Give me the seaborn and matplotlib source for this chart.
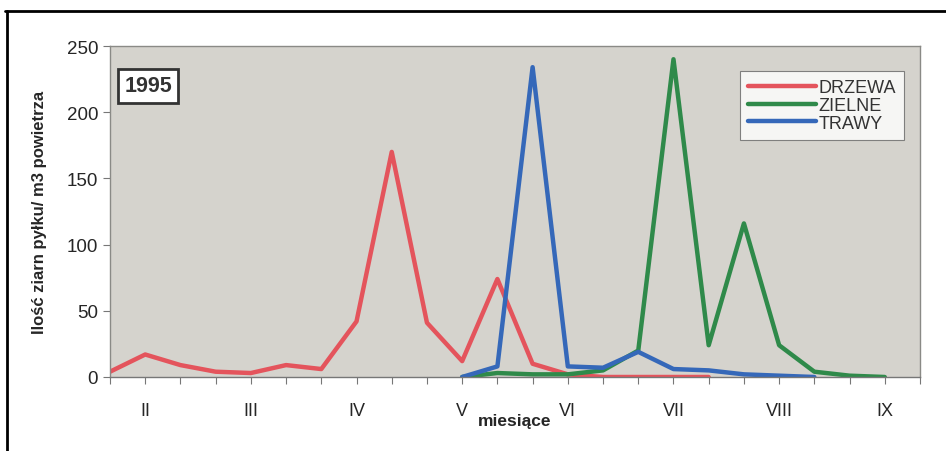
import numpy as np
import pandas as pd
import matplotlib.pyplot as plt
import seaborn as sns
from matplotlib.lines import Line2D

# ten-day periods, 24 positions on the category axis
periods = list(range(24))
month_pos = [1, 4, 7, 10, 13, 16, 19, 22]
month_labels = ['II', 'III', 'IV', 'V', 'VI', 'VII', 'VIII', 'IX']

nan = np.nan
drzewa = [4, 17, 9, 4, 3, 9, 6, 42, 170, 41, 12, 74, 10, 2, 0, 0, 0, 0,
          nan, nan, nan, nan, nan, nan]
zielne = [nan] * 10 + [0, 3, 2, 2, 5, 20, 240, 24, 116, 24, 4, 1, 0, nan]
trawy = [nan] * 10 + [0, 8, 234, 8, 7, 19, 6, 5, 2, 1, 0, nan, nan, nan]

series = {'DRZEWA': drzewa, 'ZIELNE': zielne, 'TRAWY': trawy}
colors = {'DRZEWA': '#E4545C', 'ZIELNE': '#2F8A4A', 'TRAWY': '#3568B9'}

df = pd.concat([pd.DataFrame({'okres': periods, 'wartosc': v, 'grupa': k})
                for k, v in series.items()], ignore_index=True)

sns.set_theme(style='white')
plt.rcParams['font.family'] = ['Liberation Sans', 'DejaVu Sans']

fig = plt.figure(figsize=(9.46, 4.52), dpi=100)
ax = fig.add_axes([110 / 946, 1 - 378 / 452, 810 / 946, 331 / 452])
ax.set_facecolor('#D5D3CD')

sns.lineplot(data=df, x='okres', y='wartosc', hue='grupa', palette=colors,
             linewidth=3.2, ax=ax)

ax.set_xlim(0, 23)
ax.set_ylim(0, 250)
ax.set_yticks([0, 50, 100, 150, 200, 250])
ax.set_xticks(periods, minor=True)
ax.set_xticks(month_pos)
ax.set_xticklabels(month_labels)
ax.tick_params(axis='x', which='both', direction='out', length=5, width=0.8,
               color='#777777', pad=13, labelsize=13, bottom=True)
ax.tick_params(axis='y', direction='out', length=5, width=0.8, color='#777777',
               labelsize=13.5, left=True)
for s in ax.spines.values():
    s.set_color('#8A8A86')
    s.set_linewidth(1.0)
ax.spines['bottom'].set_color('#777777')

ax.set_xlabel('miesiące', fontsize=12.5, fontweight='bold', labelpad=-4)
ax.set_ylabel('Ilość ziarn pyłku/ m3 powietrza', fontsize=12, fontweight='bold',
              labelpad=14)

ax.text(0.047, 0.88, '1995', transform=ax.transAxes, fontsize=15.5,
        fontweight='bold', color='#333333', ha='center', va='center',
        bbox=dict(boxstyle='square,pad=0.3', facecolor='white',
                  edgecolor='#333333', linewidth=2))

leg = ax.legend(title=None, loc='upper right', bbox_to_anchor=(0.98, 0.925),
                frameon=True, fancybox=False, fontsize=13, handlelength=3.8,
                handletextpad=0.1, labelspacing=0.05, borderpad=0.45,
                borderaxespad=0)
leg.get_frame().set_edgecolor('#666666')
leg.get_frame().set_facecolor('white')
leg.get_frame().set_linewidth(0.8)
for t in leg.get_texts():
    t.set_color('#333333')
for h in leg.get_lines():
    h.set_linewidth(3.2)

# scanned page border
fig.add_artist(Line2D([5 / 946, 1], [1 - 12 / 452, 1 - 12 / 452],
                      color='black', linewidth=2))
fig.add_artist(Line2D([7 / 946, 7 / 946], [0, 1 - 12 / 452],
                      color='black', linewidth=2))

fig.savefig('out.png', dpi=100)
